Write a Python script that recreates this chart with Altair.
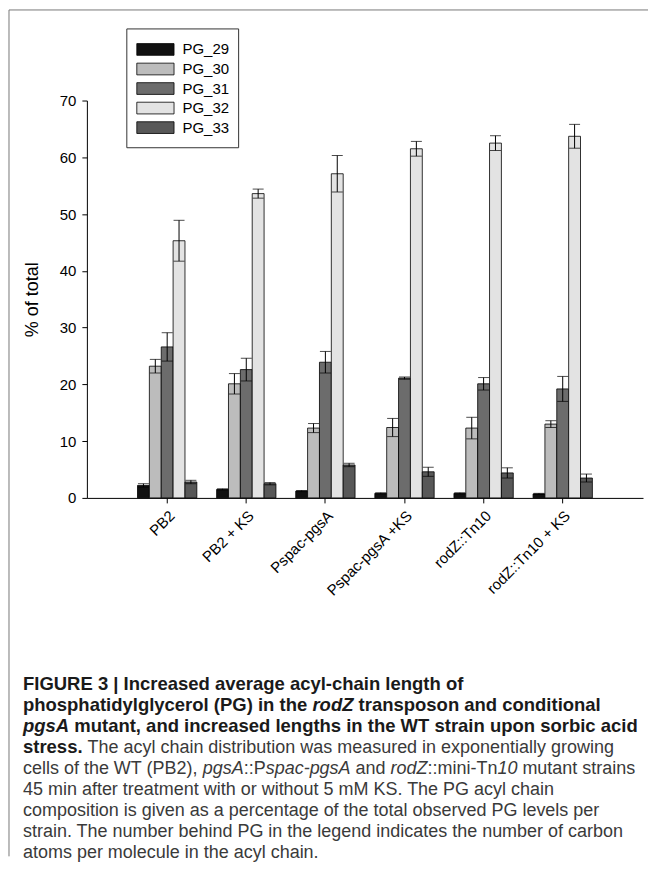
import altair as alt
import pandas as pd

# ---------------- data ----------------
STRAINS = ["PB2", "PB2 + KS", "Pspac-pgsA", "Pspac-pgsA +KS", "rodZ::Tn10", "rodZ::Tn10 + KS"]
SERIES = ["PG_29", "PG_30", "PG_31", "PG_32", "PG_33"]

PG_29 = [2.2, 1.5, 1.2, 0.8, 0.8, 0.7]
PG_29_ERR = [0.3, 0.1, 0.1, 0.1, 0.1, 0.1]
PG_30 = [23.2, 20.1, 12.3, 12.4, 12.3, 13.0]
PG_30_ERR = [1.2, 1.8, 0.8, 1.6, 1.9, 0.6]
PG_31 = [26.6, 22.6, 23.9, 21.1, 20.1, 19.2]
PG_31_ERR = [2.5, 2.0, 1.9, 0.2, 1.1, 2.2]
PG_32 = [45.3, 53.6, 57.1, 61.5, 62.5, 63.7]
PG_32_ERR = [3.6, 0.8, 3.2, 1.3, 1.3, 2.1]
PG_33 = [2.8, 2.5, 5.8, 4.6, 4.4, 3.5]
PG_33_ERR = [0.3, 0.2, 0.3, 0.8, 0.9, 0.7]

COLORS = ["#111111", "#bcbcbc", "#6c6c6c", "#e3e3e3", "#585858"]
Y_TICKS = [0, 10, 20, 30, 40, 50, 60, 70]

CAPTION = [
    [("FIGURE 3 | Increased average acyl-chain length of", "b")],
    [("phosphatidylglycerol (PG) in the ", "b"), ("rodZ", "bi"), (" transposon and conditional", "b")],
    [("pgsA", "bi"), (" mutant, and increased lengths in the WT strain upon sorbic acid", "b")],
    [("stress.", "b"), (" The acyl chain distribution was measured in exponentially growing", "r")],
    [("cells of the WT (PB2), ", "r"), ("pgsA", "i"), ("::P", "r"), ("spac-pgsA", "i"), (" and ", "r"),
     ("rodZ", "i"), ("::mini-Tn", "r"), ("10", "i"), (" mutant strains", "r")],
    [("45 min after treatment with or without 5 mM KS. The PG acyl chain", "r")],
    [("composition is given as a percentage of the total observed PG levels per", "r")],
    [("strain. The number behind PG in the legend indicates the number of carbon", "r")],
    [("atoms per molecule in the acyl chain.", "r")],
]

VALUES = dict(zip(SERIES, [PG_29, PG_30, PG_31, PG_32, PG_33]))
ERRORS = dict(zip(SERIES, [PG_29_ERR, PG_30_ERR, PG_31_ERR, PG_32_ERR, PG_33_ERR]))

rows = []
for s in SERIES:
    for st, v, e in zip(STRAINS, VALUES[s], ERRORS[s]):
        rows.append({"strain": st, "series": s, "value": v, "lo": v - e, "hi": v + e})
df = pd.DataFrame(rows)

# ---------------- layout / style ----------------
FONT = "Liberation Sans"
W, H = 557, 398

# Arial/Liberation advance widths (per 1000 em) for caption layout
_LOW_R = dict(zip("abcdefghijklmnopqrstuvwxyz",
                  [556, 556, 500, 556, 556, 278, 556, 556, 222, 222, 500, 222, 833,
                   556, 556, 556, 556, 333, 500, 278, 556, 500, 722, 500, 500, 500]))
_LOW_B = dict(zip("abcdefghijklmnopqrstuvwxyz",
                  [556, 611, 556, 611, 556, 333, 611, 611, 278, 278, 556, 278, 889,
                   611, 611, 611, 611, 389, 556, 333, 611, 556, 778, 556, 556, 500]))
_UP_R = dict(zip("ABCDEFGHIJKLMNOPQRSTUVWXYZ",
                 [667, 667, 722, 722, 667, 611, 778, 722, 278, 500, 667, 556, 833,
                  722, 778, 667, 778, 722, 667, 611, 722, 667, 944, 667, 667, 611]))
_UP_B = dict(zip("ABCDEFGHIJKLMNOPQRSTUVWXYZ",
                 [722, 722, 722, 722, 667, 611, 778, 722, 278, 556, 722, 611, 833,
                  722, 778, 667, 778, 722, 667, 611, 722, 667, 944, 667, 667, 611]))
_PUN_R = {" ": 278, "(": 333, ")": 333, ",": 278, ".": 278, ":": 278, "-": 333, "|": 260, "_": 556}
_PUN_B = {" ": 278, "(": 333, ")": 333, ",": 278, ".": 278, ":": 333, "-": 333, "|": 280, "_": 556}
REG = {**_LOW_R, **_UP_R, **_PUN_R}
BOLD = {**_LOW_B, **_UP_B, **_PUN_B}

SIZE_B = 18.5
SIZE_R = 18.0


def tw(s, bold, size):
    table = BOLD if bold else REG
    return sum(table.get(c, 556) for c in s) * size / 1000.0


CAP_X0 = -64.0      # caption left edge (plot coords)
CAP_Y0 = 590.0      # first baseline (plot coords)
CAP_DY = 21.1

cap_rows = []
for li, line in enumerate(CAPTION):
    cur = CAP_X0
    for txt, sty in line:
        bold = "b" in sty
        size = SIZE_B if bold else SIZE_R
        lead = len(txt) - len(txt.lstrip(" "))
        x = cur + tw(" " * lead, bold, size)
        cap_rows.append({"text": txt.strip(" "), "xpx": x, "ypx": CAP_Y0 + li * CAP_DY, "style": sty})
        cur += tw(txt, bold, size)
cap_df = pd.DataFrame(cap_rows)

# ---------------- encodings ----------------
x_enc = alt.X(
    "strain:N", sort=STRAINS, title=None,
    scale=alt.Scale(paddingInner=0.25, paddingOuter=0.64),
    axis=alt.Axis(labelAngle=-45, labelAlign="right", labelBaseline="top", labelFont=FONT,
                  labelFontSize=15, labelColor="black", tickSize=5, tickColor="black",
                  domainColor="black", labelPadding=5, grid=False),
)
xo = alt.XOffset("series:N", sort=SERIES, scale=alt.Scale(paddingInner=0, paddingOuter=0))
y_scale = alt.Scale(domain=[0, 70], nice=False, zero=True)
y_axis = alt.Axis(values=Y_TICKS, labelFont=FONT, labelFontSize=15, labelColor="black",
                  titleFont=FONT, titleFontSize=18, titleFontWeight="normal", titleColor="black",
                  tickSize=5, tickColor="black", domainColor="black", labelPadding=6,
                  titlePadding=18, grid=False)
color = alt.Color("series:N", sort=SERIES, scale=alt.Scale(domain=SERIES, range=COLORS), legend=None)

base = alt.Chart(df)
bars = base.mark_bar(stroke="black", strokeWidth=0.8).encode(
    x=x_enc, xOffset=xo,
    y=alt.Y("value:Q", scale=y_scale, axis=y_axis, title="% of total"),
    color=color,
)
err = base.mark_rule(color="black", strokeWidth=1).encode(
    x=x_enc, xOffset=xo,
    y=alt.Y("lo:Q", scale=y_scale, axis=y_axis, title="% of total"), y2="hi:Q",
)
cap_hi = base.mark_tick(color="black", thickness=1, size=11).encode(
    x=x_enc, xOffset=xo, y=alt.Y("hi:Q", scale=y_scale, axis=y_axis, title="% of total"),
)
cap_lo = base.mark_tick(color="black", thickness=1, size=11).encode(
    x=x_enc, xOffset=xo, y=alt.Y("lo:Q", scale=y_scale, axis=y_axis, title="% of total"),
)
main = alt.layer(bars, err, cap_hi, cap_lo)

# ---------------- legend (inside, upper left) ----------------
leg_df = pd.DataFrame({"series": SERIES})
leg_y = alt.Y("series:N", sort=SERIES, axis=None,
              scale=alt.Scale(domain=SERIES, range=[-57, 33], paddingInner=0.4, paddingOuter=0))
one = pd.DataFrame({"k": [0]})
leg_box = alt.Chart(one).mark_rect(fill="white", stroke="#333333", strokeWidth=1).encode(
    x=alt.value(40), x2=alt.value(152), y=alt.value(-71.7), y2=alt.value(47.3))
leg_sw = alt.Chart(leg_df).mark_rect(stroke="black", strokeWidth=0.8).encode(
    x=alt.value(50), x2=alt.value(87.3), y=leg_y, color=color)
leg_tx = alt.Chart(leg_df).mark_text(align="left", baseline="middle", font=FONT, fontSize=15,
                                     color="black").encode(
    x=alt.value(95.7), y=leg_y, text="series:N")
legend = alt.layer(leg_box, leg_sw, leg_tx)

# ---------------- caption ----------------
def cap_layer(style, weight, fstyle, size, col):
    d = cap_df[cap_df["style"] == style]
    return alt.Chart(d).mark_text(align="left", baseline="alphabetic", font=FONT, fontSize=size,
                                  fontWeight=weight, fontStyle=fstyle, color=col).encode(
        x=alt.X("xpx:Q", scale=None, axis=None),
        y=alt.Y("ypx:Q", scale=None, axis=None),
        text="text:N",
    )


cap_b = cap_layer("b", "bold", "normal", SIZE_B, "#1a1a1a")
cap_bi = cap_layer("bi", "bold", "italic", SIZE_B, "#1a1a1a")
cap_r = cap_layer("r", "normal", "normal", SIZE_R, "#3a3a3a")
cap_i = cap_layer("i", "normal", "italic", SIZE_R, "#3a3a3a")

# ---------------- outer frame ----------------
frame_top = alt.Chart(one).mark_rule(color="#777777", strokeWidth=1).encode(
    x=alt.value(-78), x2=alt.value(562), y=alt.value(-90.7))
frame_left = alt.Chart(one).mark_rule(color="#777777", strokeWidth=1).encode(
    x=alt.value(-78), y=alt.value(-90.7), y2=alt.value(757))

chart = alt.layer(main, legend, cap_b, cap_bi, cap_r, cap_i, frame_top, frame_left).resolve_scale(
    x="independent", y="independent"
).properties(
    width=W, height=H, padding=0, background="white"
).configure_view(stroke=None)

chart.save("out.html", embed_options={"renderer": "svg", "actions": False})
